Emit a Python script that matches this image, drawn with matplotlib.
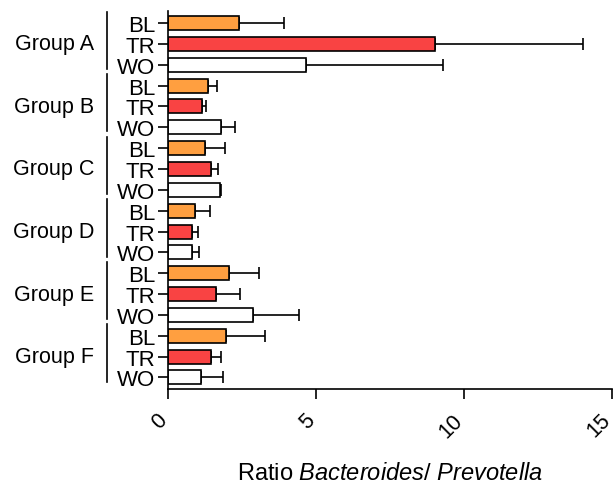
import matplotlib
matplotlib.use("Agg")
import matplotlib.pyplot as plt
import matplotlib.transforms as mtransforms

plt.rcParams['font.family'] = ['Liberation Sans', 'DejaVu Sans']
plt.rcParams['mathtext.fontset'] = 'custom'
plt.rcParams['mathtext.rm'] = 'Liberation Sans'
plt.rcParams['mathtext.it'] = 'Liberation Sans:italic'

groups = ["Group A", "Group B", "Group C", "Group D", "Group E", "Group F"]
phases = ["BL", "TR", "WO"]
colors = ["#FF9F40", "#F94343", "#FFFFFF"]

# mean and upper error (SD) per group, order BL, TR, WO
means = [
    [2.40, 9.02, 4.66],
    [1.35, 1.15, 1.78],
    [1.25, 1.44, 1.75],
    [0.91, 0.80, 0.81],
    [2.06, 1.62, 2.88],
    [1.96, 1.44, 1.11],
]
errors = [
    [1.52, 5.00, 4.63],
    [0.30, 0.15, 0.48],
    [0.68, 0.24, 0.06],
    [0.51, 0.22, 0.24],
    [1.01, 0.81, 1.55],
    [1.32, 0.34, 0.74],
]

fs = 15.5

fig = plt.figure(figsize=(6.15, 4.85), dpi=100)
ax = fig.add_axes([0.273, 0.196, 0.722, 0.779])

ypos = []
labels = []
for g in range(len(groups)):
    for p in range(len(phases)):
        y = g * 3 + p
        ypos.append(y)
        labels.append(phases[p])
        ax.barh(y, means[g][p], height=0.67, color=colors[p],
                edgecolor="black", linewidth=1.2, zorder=2)
        ax.errorbar(means[g][p], y, xerr=[[0], [errors[g][p]]], fmt="none",
                    ecolor="black", elinewidth=1.2, capsize=4, capthick=1.2,
                    zorder=1)

ax.set_ylim(17.55, -0.57)
ax.set_xlim(0, 15)
ax.set_yticks(ypos)
ax.set_yticklabels(labels, fontsize=16)
ax.set_xticks([0, 5, 10, 15])
ax.set_xticklabels(["0", "5", "10", "15"], fontsize=fs, rotation=45,
                   ha="right", va="center", rotation_mode="anchor")
ax.tick_params(axis="y", length=7, width=1.2, pad=2)
ax.tick_params(axis="x", length=7, width=1.2, pad=13)

# nudge rotated tick labels a little to the left so "15" stays inside
shift = mtransforms.ScaledTranslation(-3 / 72, 0, fig.dpi_scale_trans)
for lab in ax.get_xticklabels():
    lab.set_transform(lab.get_transform() + shift)

for side in ["top", "right"]:
    ax.spines[side].set_visible(False)
for side in ["left", "bottom"]:
    ax.spines[side].set_linewidth(1.2)

# group brackets and labels
trans = mtransforms.blended_transform_factory(ax.transAxes, ax.transData)
for g, name in enumerate(groups):
    top = g * 3 - 0.55
    bottom = g * 3 + 2.2
    ax.plot([-0.137, -0.137], [top, bottom], color="black", linewidth=1.2,
            transform=trans, clip_on=False)
    ax.text(-0.166, g * 3 + 1, name, transform=trans, ha="right",
            va="center", fontsize=fs)

fig.text(390 / 615, 1 - 480 / 485,
         "Ratio $\\it{Bacteroides}$/ $\\it{Prevotella}$",
         ha="center", va="baseline", fontsize=17)

plt.savefig("out.png", dpi=100)
